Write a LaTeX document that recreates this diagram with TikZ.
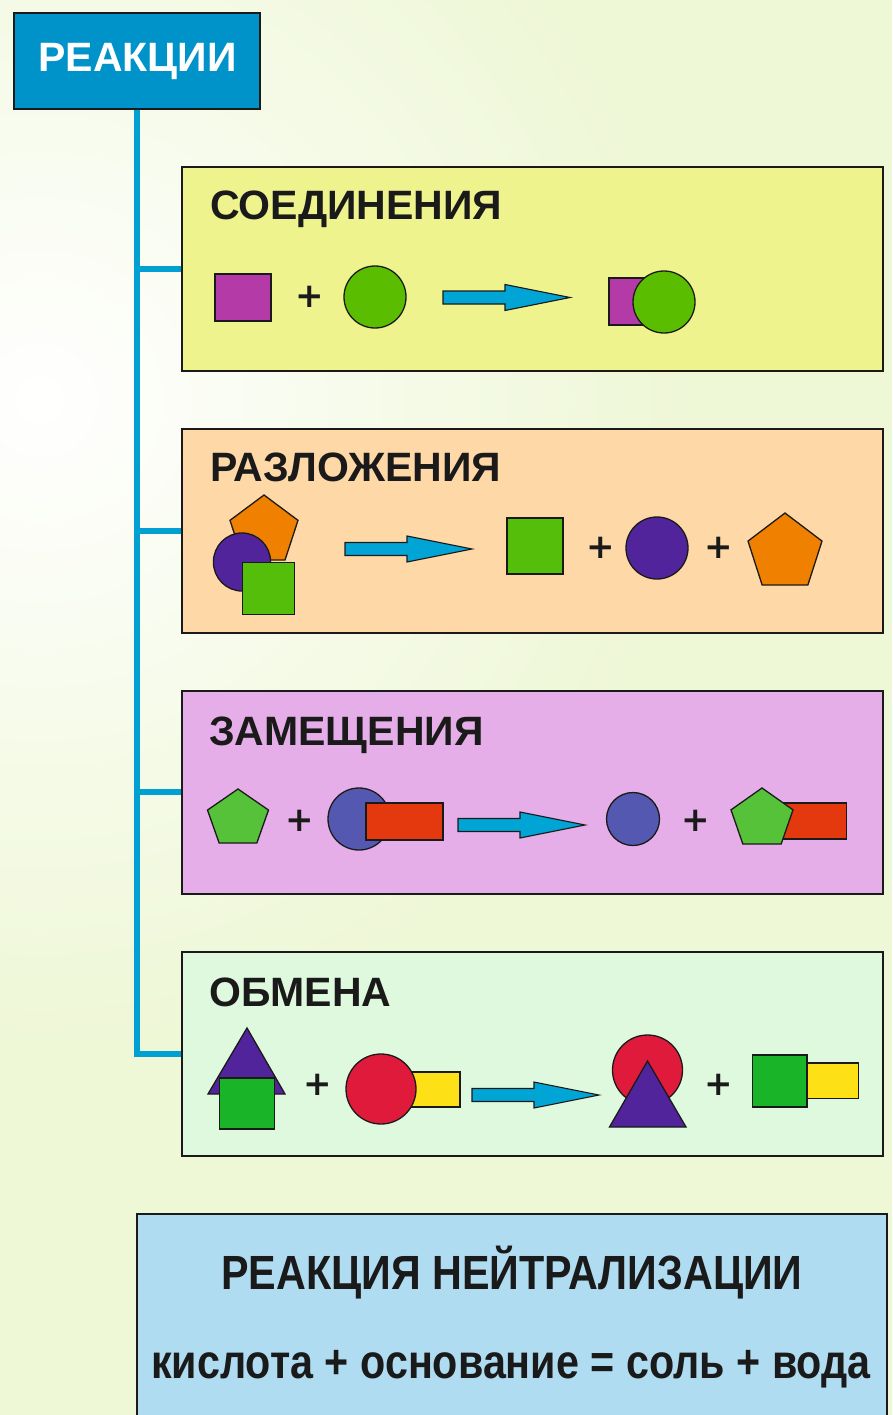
\documentclass[tikz,border=0pt]{standalone}
\usepackage{fontspec}
\setmainfont{Liberation Sans}
\newfontfamily\narrowfont[FakeStretch=0.86]{Liberation Sans}
\newfontfamily\plusfont{DejaVu Sans}
\usetikzlibrary{positioning}
\definecolor{bgc}{HTML}{EEF7D6}
\definecolor{rootc}{HTML}{0093C9}
\definecolor{connc}{HTML}{00A0D2}
\definecolor{boxa}{HTML}{EEF38D}
\definecolor{boxb}{HTML}{FFD8A8}
\definecolor{boxc}{HTML}{E6AEE8}
\definecolor{boxd}{HTML}{DFF9DE}
\definecolor{boxe}{HTML}{B0DCF2}
\definecolor{magc}{HTML}{B43AA8}
\definecolor{grna}{HTML}{5BBD00}
\definecolor{arrc}{HTML}{00A5D5}
\definecolor{orac}{HTML}{F08000}
\definecolor{purc}{HTML}{51249B}
\definecolor{grnb}{HTML}{55BE0A}
\definecolor{grnc}{HTML}{55C23A}
\definecolor{bluc}{HTML}{5558B0}
\definecolor{redr}{HTML}{E4380F}
\definecolor{redc}{HTML}{E01A3B}
\definecolor{yelc}{HTML}{FDE015}
\definecolor{grnd}{HTML}{19B427}
\definecolor{linec}{HTML}{1A1A1A}
\tikzset{
  box/.style={draw=linec, line width=1.8pt, anchor=north west, inner sep=0pt},
  conn/.style={draw=connc, line width=6pt},
  shp/.style={draw=linec, line width=1.3pt, line join=miter},
  arr/.style={draw=linec, line width=1.1pt, fill=arrc},
  head/.style={font=\bfseries\fontsize{41}{48}\selectfont, text=linec, anchor=base west, inner sep=0pt},
  plus/.style={font=\plusfont\bfseries\fontsize{34}{40}\selectfont, text=linec, inner sep=0pt},
  bottomtxt/.style={font=\narrowfont\bfseries\fontsize{48}{56}\selectfont, text=linec, anchor=base, inner sep=0pt},
}
\newcommand\rarr[2]{\draw[arr] (#1,#2) ++(0,-6.5) -- ++(62,0) -- ++(0,-6.5) -- ++(65,13) -- ++(-65,13) -- ++(0,-6.5) -- ++(-62,0) -- cycle;}
\newcommand\pent[5]{\draw[shp, fill=#5] ({#1},{#2}) -- ({#1+#3/2},{#2+0.39*#4}) -- ({#1+0.309*#3},{#2+#4}) -- ({#1-0.309*#3},{#2+#4}) -- ({#1-#3/2},{#2+0.39*#4}) -- cycle;}
\begin{document}
\begin{tikzpicture}[x=1pt,y=-1pt]
\useasboundingbox (0,0) rectangle (892,1415);
\begin{scope}
\clip (0,0) rectangle (892,1415);
\fill[bgc] (0,0) rectangle (892,1415);
\shade[inner color=white, outer color=bgc] (40,400) circle (650);
\end{scope}
% root
\node[box, fill=rootc, minimum width=246pt, minimum height=96pt] (root) at (13,12) {};
\node[font=\bfseries\fontsize{41}{48}\selectfont, text=white, anchor=base, inner sep=0pt] (roottxt) at (137.5,72) {РЕАКЦИИ};
% boxes
\node[box, fill=boxa, minimum width=701pt, minimum height=204pt] (b1) at (181,166) {};
\node[box, fill=boxb, minimum width=701pt, minimum height=204pt] (b2) at (181,428) {};
\node[box, fill=boxc, minimum width=701pt, minimum height=203pt] (b3) at (181,690) {};
\node[box, fill=boxd, minimum width=701pt, minimum height=204pt] (b4) at (181,951) {};
\node[box, fill=boxe, minimum width=750pt, minimum height=215pt] (b5) at (136,1213) {};
% connectors
\draw[conn] (root.south) -- (root.south |- b4.west) -- (b4.west);
\draw[conn] (root.south |- b1.west) -- (b1.west);
\draw[conn] (root.south |- b2.west) -- (b2.west);
\draw[conn] (root.south |- b3.west) -- (b3.west);
% headings
\node[head] (h1) at (210,220) {СОЕДИНЕНИЯ};
\node[head] (h2) at (210,481) {РАЗЛОЖЕНИЯ};
\node[head] (h3) at (209,745) {ЗАМЕЩЕНИЯ};
\node[head] (h4) at (209,1006) {ОБМЕНА};
% box 1
\draw[shp, fill=magc] (215,274) rectangle (271,321);
\node[plus] (p1) at (310,297) {+};
\draw[shp, fill=grna] (375,297) circle (31);
\rarr{443}{297.5}
\draw[shp, fill=magc] (609,278) rectangle (656,325);
\draw[shp, fill=grna] (664,302) circle (31);
% box 2
\pent{264}{495}{68}{65}{orac}
\draw[shp, fill=purc] (242,562) ellipse [x radius=28.6, y radius=29];
\draw[shp, fill=grnb] (242.5,562.5) rectangle (294.5,614.5);
\rarr{345}{549}
\draw[shp, fill=grnb] (507,518) rectangle (563,574);
\node[plus] (p2) at (601,548) {+};
\draw[shp, fill=purc] (657,548) circle (31);
\node[plus] (p3) at (719,548) {+};
\pent{785}{513}{74}{72}{orac}
% box 3
\pent{238}{789}{61}{54}{grnc}
\node[plus] (p4) at (300,821) {+};
\draw[shp, fill=bluc] (359,819) circle (31);
\draw[shp, fill=redr] (366,803) rectangle (443,840);
\rarr{458}{825}
\draw[shp, fill=bluc] (633,819) circle (26.5);
\node[plus] (p5) at (696,821) {+};
\draw[shp, fill=redr] (775,803) rectangle (846.5,839);
\pent{762}{788}{62}{56}{grnc}
% box 4
\draw[shp, fill=purc] (247,1028) -- (285,1094) -- (208,1094) -- cycle;
\draw[shp, fill=grnd] (219.5,1078) rectangle (274.5,1129);
\node[plus] (p6) at (318,1085) {+};
\draw[shp, fill=yelc] (405,1072) rectangle (460,1107);
\draw[shp, fill=redc] (381,1089) circle (35);
\rarr{472}{1095}
\draw[shp, fill=redc] (647.5,1070) circle (35);
\draw[shp, fill=purc] (647.5,1061) -- (686,1127) -- (609.5,1127) -- cycle;
\node[plus] (p7) at (719,1085) {+};
\draw[shp, fill=yelc] (807,1063) rectangle (858.5,1098.5);
\draw[shp, fill=grnd] (752.5,1055) rectangle (807,1107);
% bottom box
\node[bottomtxt] (t1) at (512,1289) {РЕАКЦИЯ НЕЙТРАЛИЗАЦИИ};
\node[bottomtxt] (t2) at (511,1378) {кислота + основание = соль + вода};
\end{tikzpicture}
\end{document}
